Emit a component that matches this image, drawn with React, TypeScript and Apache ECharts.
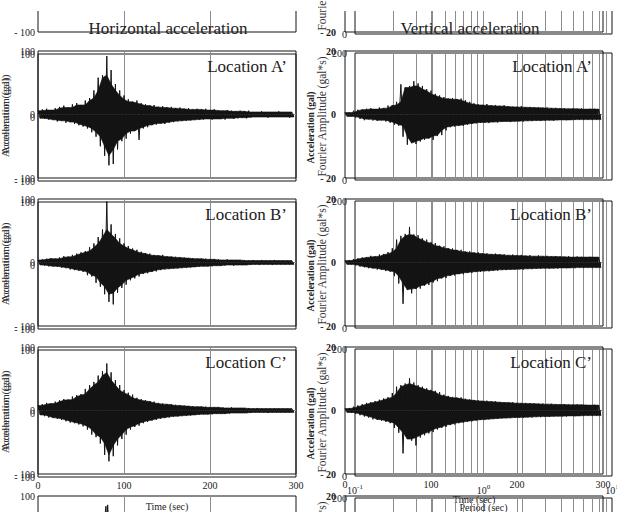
import React, { useEffect, useRef } from "react";
import * as echarts from "echarts";

// ---- data ----
const binSeconds = 5; // envelope bins, 0..295 s
const timeTicks = [0, 100, 200, 300];
const periodGridlines = [0.2, 0.3, 0.4, 0.5, 0.6, 0.7, 0.8, 0.9, 2, 3, 4, 5, 6, 7, 8, 9];
const locations = ["Location A’", "Location B’", "Location C’"];
const titles = ["Horizontal acceleration", "Vertical acceleration"];

const horizAUpper = [6, 8, 9, 7, 10, 12, 14, 11, 16, 18, 15, 22, 26, 38, 58, 62, 92, 70, 48, 38, 30, 24, 20, 22, 18, 16, 14, 15, 12, 13, 11, 12, 10, 11, 9, 10, 8, 9, 8, 9, 7, 8, 7, 6, 7, 6, 5, 6, 5, 6, 4, 4, 5, 4, 4, 4, 5, 4, 4, 4];
const horizALower = [-6, -7, -8, -9, -11, -10, -13, -12, -15, -17, -19, -22, -28, -35, -50, -65, -80, -78, -55, -42, -38, -30, -26, -40, -22, -20, -17, -16, -14, -15, -13, -12, -11, -10, -10, -9, -9, -8, -8, -7, -8, -7, -7, -8, -6, -7, -6, -5, -6, -5, -4, -4, -4, -5, -4, -4, -4, -4, -5, -4];
const horizBUpper = [4, 5, 6, 7, 6, 8, 10, 9, 12, 14, 16, 18, 24, 30, 40, 52, 96, 60, 45, 38, 30, 26, 22, 20, 17, 15, 14, 12, 11, 12, 10, 9, 9, 8, 8, 7, 7, 6, 6, 6, 5, 5, 5, 4, 5, 4, 4, 4, 4, 3, 4, 3, 4, 3, 3, 4, 3, 3, 3, 3];
const horizBLower = [-4, -5, -6, -6, -7, -8, -9, -11, -12, -13, -15, -20, -22, -32, -38, -50, -62, -66, -48, -40, -35, -28, -25, -22, -18, -17, -15, -14, -12, -11, -10, -10, -9, -9, -8, -8, -7, -7, -6, -6, -6, -5, -5, -5, -4, -5, -4, -4, -4, -4, -3, -4, -3, -3, -4, -3, -3, -3, -3, -3];
const horizCUpper = [8, 10, 12, 11, 14, 16, 18, 17, 22, 24, 26, 34, 40, 45, 55, 62, 74, 60, 48, 40, 32, 28, 25, 20, 18, 16, 15, 14, 12, 11, 10, 10, 9, 8, 8, 7, 7, 6, 6, 6, 5, 5, 5, 5, 4, 5, 4, 4, 4, 4, 3, 4, 3, 3, 3, 3, 3, 3, 3, 3];
const horizCLower = [-7, -9, -11, -12, -13, -15, -17, -19, -20, -22, -25, -30, -38, -42, -52, -70, -80, -72, -55, -45, -38, -30, -26, -24, -20, -18, -16, -15, -13, -12, -11, -10, -9, -9, -8, -8, -7, -7, -6, -6, -6, -5, -5, -5, -5, -4, -4, -4, -4, -4, -3, -3, -3, -4, -3, -3, -3, -3, -3, -3];

const vertAUpper = [0.6, 0.6, 1.2, 1.5, 1.6, 1.8, 2.0, 1.7, 2.2, 2.0, 2.8, 3.0, 4.0, 9.5, 8.5, 9.0, 10.5, 9.8, 9.0, 8.0, 7.5, 6.5, 6.0, 5.5, 5.0, 5.2, 4.8, 5.0, 4.5, 4.0, 3.5, 3.2, 3.0, 3.3, 2.8, 3.0, 2.7, 2.9, 2.6, 2.5, 2.4, 2.6, 2.3, 2.4, 2.2, 2.3, 2.1, 2.2, 2.0, 2.1, 1.9, 2.0, 1.8, 1.9, 1.8, 1.9, 1.7, 1.8, 1.8, 1.7];
const vertALower = [-0.6, -0.6, -1.0, -1.4, -1.8, -1.5, -1.9, -2.0, -1.8, -2.2, -2.6, -3.2, -3.5, -7.0, -9.5, -9.0, -9.3, -8.5, -8.0, -7.5, -8.0, -6.8, -6.5, -5.0, -4.0, -3.8, -3.5, -3.6, -3.2, -3.0, -2.8, -2.6, -2.5, -2.7, -2.4, -2.5, -2.3, -2.2, -2.4, -2.2, -2.1, -2.2, -2.0, -2.1, -1.9, -2.0, -1.9, -1.8, -1.9, -1.8, -1.7, -1.8, -1.7, -1.7, -1.6, -1.7, -1.6, -1.7, -1.6, -1.6];
const vertBUpper = [0.6, 0.7, 1.1, 1.3, 1.6, 1.7, 2.1, 1.9, 2.5, 2.7, 3.3, 4.5, 7.2, 8.4, 9.0, 11.2, 8.8, 8.6, 7.6, 7.2, 6.4, 6.1, 5.3, 5.1, 4.5, 4.4, 3.9, 4.0, 3.4, 3.5, 3.1, 3.2, 2.8, 2.9, 2.6, 2.8, 2.5, 2.6, 2.3, 2.5, 2.2, 2.4, 2.1, 2.3, 2.0, 2.2, 2.0, 2.1, 1.9, 2.0, 1.9, 1.8, 2.0, 1.7, 1.9, 1.8, 1.7, 1.8, 1.7, 1.7];
const vertBLower = [-0.6, -0.6, -1.0, -1.3, -1.5, -1.8, -1.8, -2.2, -2.3, -2.7, -2.9, -4.3, -6.6, -13.0, -8.6, -9.7, -8.3, -8.2, -7.3, -7.1, -6.3, -5.9, -5.0, -4.9, -4.2, -4.1, -3.6, -3.7, -3.2, -3.3, -2.9, -3.0, -2.7, -2.8, -2.5, -2.6, -2.3, -2.4, -2.2, -2.3, -2.1, -2.2, -2.0, -2.1, -1.9, -2.0, -1.8, -1.9, -1.8, -1.9, -1.7, -1.8, -1.7, -1.8, -1.6, -1.7, -1.6, -1.7, -1.6, -1.6];
const vertCUpper = [0.6, 0.8, 1.2, 1.6, 2.0, 2.4, 2.6, 3.0, 3.4, 3.8, 4.2, 5.5, 7.5, 8.0, 8.5, 10.2, 8.8, 8.0, 7.5, 7.0, 6.5, 6.2, 5.8, 5.0, 4.6, 4.3, 4.0, 4.1, 3.7, 3.5, 3.3, 3.2, 3.0, 3.1, 2.8, 2.9, 2.7, 2.6, 2.5, 2.6, 2.4, 2.3, 2.4, 2.2, 2.3, 2.1, 2.2, 2.0, 2.1, 2.0, 1.9, 2.0, 1.9, 1.8, 1.9, 1.8, 1.8, 1.7, 1.8, 1.7];
const vertCLower = [-0.6, -0.7, -1.1, -1.5, -1.9, -2.2, -2.8, -2.9, -3.2, -3.6, -4.0, -5.5, -7.0, -13.5, -9.0, -9.5, -11.0, -8.5, -7.8, -7.2, -6.8, -6.0, -5.5, -5.2, -4.6, -4.4, -4.0, -3.8, -3.6, -3.4, -3.2, -3.0, -2.9, -2.8, -2.7, -2.6, -2.5, -2.4, -2.4, -2.3, -2.2, -2.3, -2.1, -2.2, -2.0, -2.1, -1.9, -2.0, -1.9, -1.8, -1.8, -1.9, -1.7, -1.8, -1.7, -1.7, -1.6, -1.7, -1.6, -1.6];

// bottom (cut-off) panel: only the tip of its main spike is visible
const lowerPanelTimes = [77, 79, 80, 81, 82, 84];
const lowerPanelValues = [60, 84, 55, 86, 58, 65];

// ---- layout ----
const SERIF = "'Liberation Serif', 'Times New Roman', serif";
const GRAY = "#8d8d8d";
const INK = "#141414";
const ROW_TOPS = [-95, 51, 199, 347, 496];
const H = 127;

const dash = (v: number) => (v < 0 ? "- " + Math.abs(v) : String(v));

// solid body of the trace: each bin limited by its smaller neighbour, so the
// individual peaks stand out as spikes drawn by the oscillating line
function body(values: number[]) {
  return values.map((v, i) => {
    const a = values[i - 1] ?? v;
    const b = values[i + 1] ?? v;
    return v >= 0 ? Math.min(a, v, b) : Math.max(a, v, b);
  });
}

function buildOption() {
  const grid: any[] = [];
  const xAxis: any[] = [];
  const yAxis: any[] = [];
  const series: any[] = [];
  const add = (g: any, x: any, y: any) => {
    grid.push({ show: true, borderColor: INK, borderWidth: 1, backgroundColor: "transparent", outerBoundsMode: "none", containLabel: false, ...g });
    const idx = grid.length - 1;
    xAxis.push({ gridIndex: idx, axisLine: { show: false }, axisTick: { show: false }, ...x });
    yAxis.push({ gridIndex: idx, axisLine: { show: false }, axisTick: { show: false }, ...y });
    return idx;
  };
  const labelStyle = { fontFamily: SERIF, fontSize: 10, color: "#222" };
  const split = { show: true, showMinLine: false, showMaxLine: false, lineStyle: { color: GRAY, width: 1 } };
  const noSplit = { show: false };

  const horizWaves = [
    [horizAUpper, horizALower],
    [horizBUpper, horizBLower],
    [horizCUpper, horizCLower],
  ];
  const vertWaves = [
    [vertAUpper, vertALower],
    [vertBUpper, vertBLower],
    [vertCUpper, vertCLower],
  ];

  const bodySeries = (idx: number, values: number[], offset: number) => ({
    type: "line",
    xAxisIndex: idx,
    yAxisIndex: idx,
    data: body(values).map((v, i) => [i * binSeconds + offset, v]),
    symbol: "none",
    showSymbol: false,
    lineStyle: { color: INK, width: 0.6 },
    areaStyle: { color: INK, opacity: 1 },
    z: 5,
    silent: true,
  });
  const pushWave = (idx: number, pair: number[][]) => {
    const [up, lo] = pair;
    series.push(bodySeries(idx, up, 0));
    series.push(bodySeries(idx, lo, binSeconds / 2));
    const pts: number[][] = [];
    up.forEach((u, i) => {
      pts.push([i * binSeconds, u]);
      pts.push([i * binSeconds + binSeconds / 2, lo[i]]);
    });
    series.push({
      type: "line", xAxisIndex: idx, yAxisIndex: idx, data: pts,
      symbol: "none", showSymbol: false, lineStyle: { color: INK, width: 1 }, z: 6, silent: true,
    });
  };

  ROW_TOPS.forEach((top, r) => {
    const main = r >= 1 && r <= 3;
    // ---- left column: horizontal acceleration ----
    const l1 = add(
      { left: 38, top, width: 258, height: H },
      {
        type: "value", min: 0, max: 300, interval: 100, splitLine: split,
        axisLabel: { show: r === 3, margin: 6, ...labelStyle },
        name: r === 3 ? "Time (sec)" : "", nameLocation: "middle", nameGap: 27,
        nameTextStyle: { ...labelStyle, fontSize: 10 },
      },
      {
        type: "value", min: -100, max: 100, interval: 100, splitLine: split,
        axisLabel: { show: true, margin: 3, formatter: dash, ...labelStyle },
        name: main ? "Acceleration (gal)" : "", nameLocation: "middle", nameGap: 20,
        nameTextStyle: { fontFamily: SERIF, fontSize: 11, color: "#333" },
      }
    );
    if (main) {
      pushWave(l1, horizWaves[r - 1]);
      add(
        { left: 38, top: top + 3, width: 258, height: H },
        { type: "value", min: 0, max: 300, interval: 100, splitLine: noSplit, axisLabel: { show: false } },
        {
          type: "value", min: -100, max: 100, interval: 100, splitLine: noSplit,
          axisLabel: { show: true, margin: 3, formatter: dash, ...labelStyle },
          name: "Acceleration (gal)", nameLocation: "middle", nameGap: 20,
          nameTextStyle: { fontFamily: SERIF, fontSize: 11, color: "#333" },
        }
      );
    }
    if (r === 4) {
      series.push({
        type: "line", xAxisIndex: l1, yAxisIndex: l1,
        data: lowerPanelTimes.map((t, i) => [t, lowerPanelValues[i]]),
        symbol: "none", lineStyle: { color: INK, width: 1 }, z: 5, silent: true,
      });
    }

    // ---- right column: vertical acceleration (time grid) ----
    const r1 = add(
      { left: 345, top, width: 258, height: H },
      {
        type: "value", min: 0, max: 300, interval: 100, splitLine: split,
        axisLabel: { show: r === 3, margin: 5, ...labelStyle },
        name: r === 3 ? "Time (sec)" : "", nameLocation: "middle", nameGap: 20,
        nameTextStyle: { ...labelStyle, fontSize: 10 },
      },
      {
        type: "value", min: -20, max: 20, interval: 20, splitLine: split,
        axisLabel: { show: true, margin: 9, formatter: dash, ...labelStyle, fontWeight: "bold" },
        name: main ? "Acceleration (gal)" : "", nameLocation: "middle", nameGap: 22,
        nameTextStyle: { fontFamily: SERIF, fontSize: 9.5, fontWeight: "bold", color: "#222", padding: [0, 26, 0, 0] },
      }
    );
    if (main) pushWave(r1, vertWaves[r - 1]);

    // ---- right column: overlaid Fourier / period grid (log axis) ----
    const r2 = add(
      { left: 355, top: top + 2, width: 257, height: H },
      {
        type: "log", logBase: 10, min: 0.1, max: 10, splitLine: split,
        axisLabel: {
          show: r === 3, margin: 7, ...labelStyle,
          formatter: (v: number) => "10{sup|" + Math.round(Math.log10(v)) + "}",
          rich: { sup: { fontFamily: SERIF, fontSize: 7, color: "#222", padding: [0, 0, 7, 0] } },
        },
        name: r === 3 ? "Period (sec)" : "", nameLocation: "middle", nameGap: 26,
        nameTextStyle: { ...labelStyle, fontSize: 10 },
      },
      {
        type: "value", min: 0, max: 200, interval: 200, splitLine: noSplit,
        axisLabel: { show: true, margin: 8, ...labelStyle },
        name: "Fourier Amplitude (gal*s)", nameLocation: "middle", nameGap: 23,
        nameTextStyle: { fontFamily: SERIF, fontSize: 11.5, color: "#333" },
      }
    );
    series.push({
      type: "line", xAxisIndex: r2, yAxisIndex: r2, data: [], symbol: "none", z: 1, silent: true,
      markLine: {
        silent: true, symbol: "none", label: { show: false },
        lineStyle: { color: GRAY, width: 1, type: "solid" },
        data: periodGridlines.map((v) => ({ xAxis: v })),
      },
    });
  });

  const graphic: any[] = [
    // the figure above is cropped away in the source image
    { type: "rect", x: 0, y: 0, z: 15, shape: { width: 318, height: 11 }, style: { fill: "#ffffff" } },
    { type: "rect", x: 332, y: 0, z: 15, shape: { width: 285, height: 11 }, style: { fill: "#ffffff" } },
    { type: "text", x: 168, y: 28, z: 20, style: { text: titles[0], font: `17px ${SERIF}`, fill: "#222", textAlign: "center", textVerticalAlign: "middle", align: "center", verticalAlign: "middle" } },
    { type: "text", x: 470, y: 28, z: 20, style: { text: titles[1], font: `17px ${SERIF}`, fill: "#222", textAlign: "center", textVerticalAlign: "middle", align: "center", verticalAlign: "middle" } },
  ];
  locations.forEach((loc, i) => {
    const y = ROW_TOPS[i + 1] + 15;
    [287, 592].forEach((x) =>
      graphic.push({ type: "text", x, y, z: 20, style: { text: loc, font: `17px ${SERIF}`, fill: "#222", textAlign: "right", textVerticalAlign: "middle", align: "right", verticalAlign: "middle" } })
    );
  });

  return {
    animation: false,
    backgroundColor: "#ffffff",
    textStyle: { fontFamily: SERIF },
    grid, xAxis, yAxis, series, graphic,
  };
}

export default function App() {
  const ref = useRef<HTMLDivElement>(null);
  useEffect(() => {
    if (!ref.current) return;
    const chart = echarts.init(ref.current, undefined, { renderer: "svg" });
    chart.setOption(buildOption() as any);
    return () => chart.dispose();
  }, []);
  return (
    <div
      ref={ref}
      style={{ position: "fixed", left: 0, top: 0, width: 617, height: 512, background: "#fff" }}
    />
  );
}
